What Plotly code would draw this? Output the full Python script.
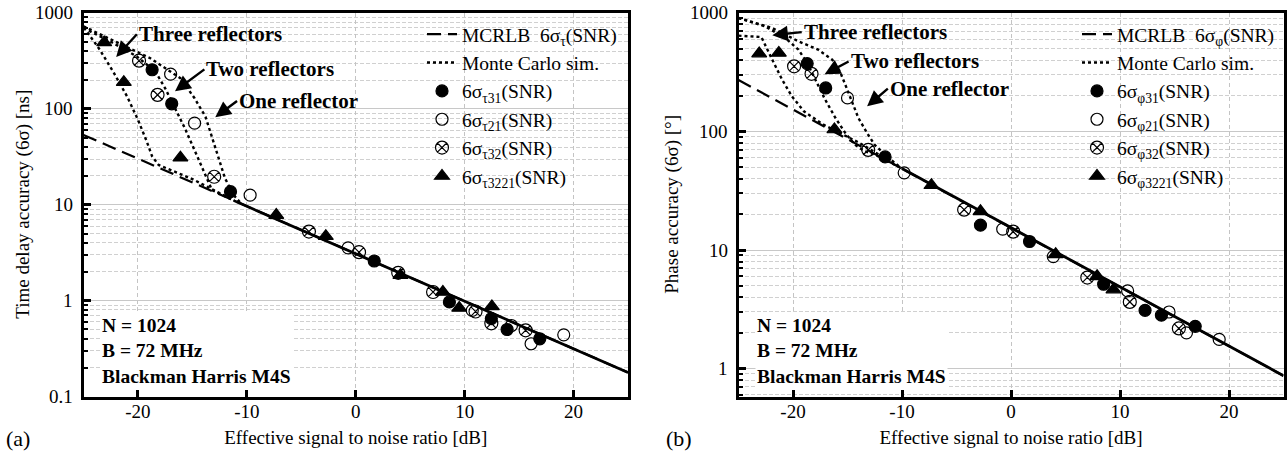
import math
import plotly.graph_objects as go

# ---------------- (a) time delay accuracy ----------------
mcrlb_snr = [-25, 25]
tau_mcrlb = [53.5, 0.178]

# converged Monte Carlo part (all curves on top of each other)
tau_conv_snr = [-11.0, 25]
tau_conv = [10.8, 0.178]

tau_mc3_snr = [-25, -24.7, -23.5, -22.2, -21.0, -20.0, -19.2, -18.7, -18.1, -15.0, -11.0]
tau_mc3 = [700, 643, 414, 236, 135, 77, 46, 32, 26, 18.5, 10.8]
tau_mc2_snr = [-25, -22.55, -20.1, -18.4, -17.5, -16.6, -15.7, -14.8, -14.0, -13.2, -11.0]
tau_mc2 = [697, 506, 352, 245, 164, 102, 63, 37, 23, 14.2, 10.8]
tau_mc1_snr = [-25, -21.9, -18.9, -16.1, -14.8, -13.8, -13.2, -12.6, -12.0, -11.2, -10.6]
tau_mc1 = [726, 493, 339, 209, 129, 83, 51, 32, 18.8, 12.6, 10.5]

tau31_snr = [-18.7, -16.9, -11.5, 1.7, 8.6, 12.45, 13.9, 16.9]
tau31 = [256, 113, 13.7, 2.59, 0.97, 0.65, 0.50, 0.40]
tau21_snr = [-17.0, -14.8, -9.7, -0.7, 10.7, 14.3, 16.1, 19.1]
tau21 = [230, 71, 12.6, 3.55, 0.79, 0.55, 0.355, 0.44]
tau32_snr = [-19.9, -18.2, -13.0, -4.3, 0.3, 3.9, 7.1, 11.0, 12.45, 15.6]
tau32 = [318, 140, 19.6, 5.25, 3.2, 1.95, 1.23, 0.77, 0.58, 0.49]
tau3221_snr = [-23.1, -21.3, -16.1, -7.3, -2.75, 4.1, 8.0, 9.5, 12.5]
tau3221 = [493, 190, 31, 7.8, 4.7, 1.84, 1.23, 0.84, 0.87]

# ---------------- (b) phase accuracy ----------------
phi_mcrlb = [272, 0.87]
phi_conv_snr = [-10.0, 25]
phi_conv = [48.8, 0.87]

phi_mc3_snr = [-25, -22.9, -21.9, -21.0, -20.1, -19.0, -18.1, -17.35, -14.0, -10.0]
phi_mc3 = [644, 627, 403, 274, 198, 148, 130, 116, 81, 48.8]
phi_mc2_snr = [-25, -22.55, -20.7, -19.5, -18.7, -17.97, -17.05, -16.1, -15.2, -14.3, -13.4, -12.5, -10.0]
phi_mc2 = [907, 771, 615, 491, 379, 274, 186, 130, 97, 77, 68, 64, 48.8]
phi_mc1_snr = [-25, -21.9, -19.5, -17.7, -16.4, -15.7, -15.2, -14.6, -14.0, -13.2, -12.5, -11.4, -10.3]
phi_mc1 = [907, 747, 577, 491, 404, 322, 248, 180, 130, 97, 77, 62, 51]

phi31_snr = [-18.7, -17.0, -11.55, -2.8, 1.7, 8.5, 12.3, 13.8, 16.9]
phi31 = [374, 233, 61, 16.2, 11.8, 5.14, 3.1, 2.82, 2.27]
phi21_snr = [-15.0, -9.8, -0.76, 3.88, 10.7, 14.5, 16.1, 19.1]
phi21 = [192, 44.8, 15.0, 8.8, 4.52, 3.0, 2.0, 1.76]
phi32_snr = [-19.9, -18.3, -13.1, -4.3, 0.2, 7.0, 10.9, 15.4]
phi32 = [355, 307, 70, 21.9, 14.3, 5.86, 3.65, 2.18]
phi3221_snr = [-23.1, -21.3, -16.2, -7.3, -2.8, 4.1, 7.9, 9.4]
phi3221 = [455, 460, 104, 35.2, 21.2, 9.2, 6.0, 4.64]

snr_ticks = [-20, -10, 0, 10, 20]
snr_ticktext = ["-20", "-10", "0", "10", "20"]
acc_ticks = [0.1, 1, 10, 100, 1000]
acc_ticktext = ["0.1", "1", "10", "100", "1000"]

FONT = "Liberation Serif, Times New Roman, serif"
W, H = 1288, 460

fig = go.Figure()


def add_panel(xa, ya, leg, sub, mcrlb, conv_x, conv_y, mcs, pts):
    fig.add_trace(go.Scatter(x=mcrlb_snr, y=mcrlb, mode="lines", xaxis=xa, yaxis=ya, legend=leg,
                             name="MCRLB\u00a0\u00a06σ<sub>%s</sub>(SNR)" % sub,
                             line=dict(color="black", width=2.2, dash="14px,7px")))
    for i, (mx, my) in enumerate(mcs):
        fig.add_trace(go.Scatter(x=mx, y=my, mode="lines", xaxis=xa, yaxis=ya, legend=leg,
                                 name="Monte Carlo sim.", showlegend=(i == 0),
                                 line=dict(color="black", width=2.4, dash="3px,3px")))
    fig.add_trace(go.Scatter(x=conv_x, y=conv_y, mode="lines", xaxis=xa, yaxis=ya, showlegend=False,
                             line=dict(color="black", width=2.8)))
    styles = [("circle", 12, "31"), ("circle-open", 12, "21"),
              ("circle-x-open", 13, "32"), ("triangle-up", 13, "3221")]
    for (sym, size, idx), (px, py) in zip(styles, pts):
        fig.add_trace(go.Scatter(x=px, y=py, mode="markers", xaxis=xa, yaxis=ya, legend=leg,
                                 name="6σ<sub>%s%s</sub>(SNR)" % (sub, idx),
                                 marker=dict(symbol=sym, size=size, color="black",
                                             line=dict(color="black", width=1.2))))


add_panel("x", "y", "legend", "τ", tau_mcrlb, tau_conv_snr, tau_conv,
          [(tau_mc3_snr, tau_mc3), (tau_mc2_snr, tau_mc2), (tau_mc1_snr, tau_mc1)],
          [(tau31_snr, tau31), (tau21_snr, tau21), (tau32_snr, tau32), (tau3221_snr, tau3221)])
add_panel("x2", "y2", "legend2", "φ", phi_mcrlb, phi_conv_snr, phi_conv,
          [(phi_mc3_snr, phi_mc3), (phi_mc2_snr, phi_mc2), (phi_mc1_snr, phi_mc1)],
          [(phi31_snr, phi31), (phi21_snr, phi21), (phi32_snr, phi32), (phi3221_snr, phi3221)])

minor_vals = [k * 10 ** e for e in range(-1, 3) for k in range(2, 10)]

xcommon = dict(range=[-25, 25], tickmode="array", tickvals=snr_ticks, ticktext=snr_ticktext,
               ticks="inside", ticklen=7, tickwidth=2.5, tickcolor="black", ticklabelstandoff=-4,
               showline=True, linecolor="black", linewidth=3, mirror=True,
               showgrid=True, gridcolor="#c4c4c4", griddash="4px,3px", gridwidth=1,
               zeroline=False, tickfont=dict(size=19, color="black"),
               title=dict(text="Effective signal to noise ratio [dB]", font=dict(size=19, color="black"), standoff=10))
# y tick labels are written as annotations below so they sit close to the axis
ycommon = dict(type="log", tickmode="array", tickvals=acc_ticks, showticklabels=False,
               ticks="inside", ticklen=7, tickwidth=2.5, tickcolor="black",
               showline=True, linecolor="black", linewidth=3, mirror=True,
               showgrid=True, gridcolor="#c8c8c8", gridwidth=1.2, zeroline=False,
               minor=dict(tickmode="array", tickvals=minor_vals, ticks="inside", ticklen=4,
                          tickwidth=1.5, tickcolor="black", showgrid=True,
                          gridcolor="#d0d0d0", griddash="4px,2px", gridwidth=1))

dom_y = [1 - 396.5 / H, 1 - 13 / H]
y_ranges = {"y": [-1, 3], "y2": [-0.236, 3]}
fig.update_layout(
    xaxis=dict(xcommon, domain=[83.5 / W, 628 / W], anchor="y"),
    yaxis=dict(ycommon, domain=dom_y, anchor="x", range=y_ranges["y"]),
    xaxis2=dict(xcommon, domain=[738.5 / W, 1283.5 / W], anchor="y2"),
    yaxis2=dict(ycommon, domain=dom_y, anchor="x2", range=y_ranges["y2"]),
    width=W, height=H, margin=dict(l=0, r=0, t=0, b=0),
    paper_bgcolor="white", plot_bgcolor="white",
    font=dict(family=FONT, color="black", size=19),
    legend=dict(x=422 / W, y=1 - 15 / H, xanchor="left", yanchor="top", bgcolor="rgba(0,0,0,0)",
                font=dict(size=19.5), tracegroupgap=0),
    legend2=dict(x=1077 / W, y=1 - 15 / H, xanchor="left", yanchor="top", bgcolor="rgba(0,0,0,0)",
                 font=dict(size=19.5), tracegroupgap=0),
)

# y tick labels and y titles
y_titles = {"y": "Time delay accuracy (6σ) [ns]", "y2": "Phase accuracy (6σ) [°]"}
label_x = {"y": 75 / W, "y2": 730 / W}
title_x = {"y": 23 / W, "y2": 672 / W}
for yr in ("y", "y2"):
    lo, hi = y_ranges[yr]
    for v, t in zip(acc_ticks, acc_ticktext):
        if lo - 1e-9 <= math.log10(v) <= hi + 1e-9:
            fig.add_annotation(x=label_x[yr], y=math.log10(v), xref="paper", yref=yr, text=t,
                               showarrow=False, xanchor="right", yanchor="middle", font=dict(size=19))
    fig.add_annotation(x=title_x[yr], y=(dom_y[0] + dom_y[1]) / 2, xref="paper", yref="paper",
                       text=y_titles[yr], textangle=-90, showarrow=False,
                       xanchor="center", yanchor="middle", font=dict(size=19))

# reflector labels: text placed at the arrow tail, arrow to the tip
labels = ["Three reflectors", "Two reflectors", "One reflector"]
left_ann = [(-20.1, 600, -22.0, 347), (-13.9, 258, -16.6, 153), (-10.9, 121, -12.9, 82)]
right_ann = [(-19.2, 690, -21.9, 650), (-14.9, 390, -17.1, 304), (-11.3, 230, -13.2, 163)]
for xr, yr, anns in (("x", "y", left_ann), ("x2", "y2", right_ann)):
    for txt, (ax, ay, hx, hy) in zip(labels, anns):
        fig.add_annotation(x=hx, y=math.log10(hy), xref=xr, yref=yr, ax=ax, ay=math.log10(ay),
                           axref=xr, ayref=yr, text="<b>%s</b>" % txt, showarrow=True,
                           xanchor="left", yanchor="middle", font=dict(size=21),
                           arrowhead=2, arrowsize=1.3, arrowwidth=2.4, arrowcolor="black")
    fig.add_annotation(x=-23.5, y=math.log10(0.295 if xr == "x" else 1.40),
                       xref=xr, yref=yr, xanchor="left", yanchor="middle", align="left",
                       text="<b>N = 1024<br>B = 72 MHz<br>Blackman Harris M4S</b>",
                       showarrow=False, bgcolor="white", font=dict(size=19.5))

fig.add_annotation(x=4 / W, y=1 - 438 / H, xref="paper", yref="paper", text="(a)", showarrow=False,
                   xanchor="left", yanchor="middle", font=dict(size=22))
fig.add_annotation(x=664 / W, y=1 - 438 / H, xref="paper", yref="paper", text="(b)", showarrow=False,
                   xanchor="left", yanchor="middle", font=dict(size=22))

fig.write_html("out.html", config={"displayModeBar": False},
               post_script="document.body.style.margin='0';")
